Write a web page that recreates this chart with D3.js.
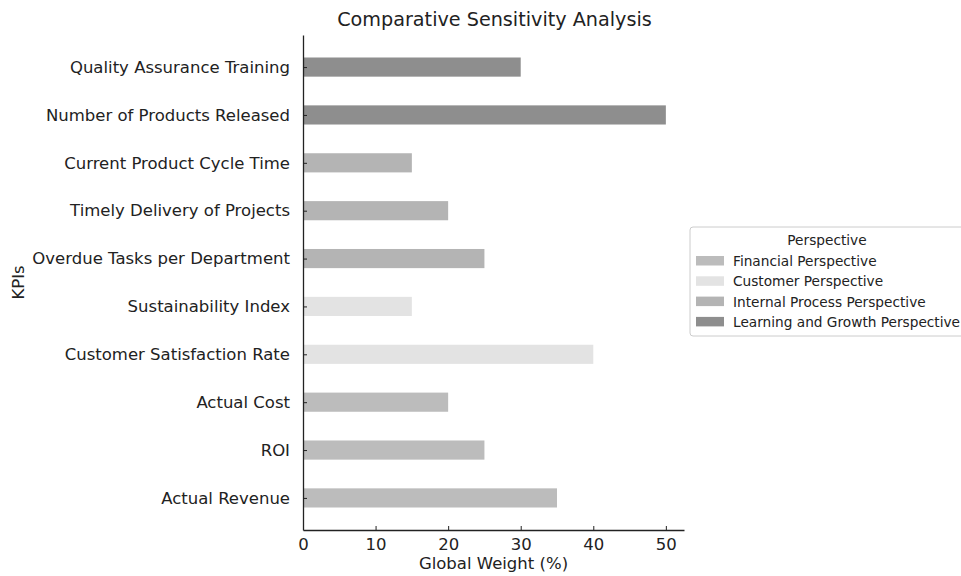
<!DOCTYPE html>
<html>
<head>
<meta charset="utf-8">
<script src="https://cdn.jsdelivr.net/npm/d3@7"></script>
<style>
  body { margin: 0; background: #fff; }
  svg { font-family: "DejaVu Sans", sans-serif; }
</style>
</head>
<body>
<div id="container"></div>
<script>
// data, top to bottom as drawn
let kpis = [
  "Quality Assurance Training",
  "Number of Products Released",
  "Current Product Cycle Time",
  "Timely Delivery of Projects",
  "Overdue Tasks per Department",
  "Sustainability Index",
  "Customer Satisfaction Rate",
  "Actual Cost",
  "ROI",
  "Actual Revenue"
];
let weights = [30, 50, 15, 20, 25, 15, 40, 20, 25, 35];
let perspectiveOf = [
  "Learning and Growth Perspective",
  "Learning and Growth Perspective",
  "Internal Process Perspective",
  "Internal Process Perspective",
  "Internal Process Perspective",
  "Customer Perspective",
  "Customer Perspective",
  "Financial Perspective",
  "Financial Perspective",
  "Financial Perspective"
];
let perspectives = [
  "Financial Perspective",
  "Customer Perspective",
  "Internal Process Perspective",
  "Learning and Growth Perspective"
];
let colors = ["#bcbcbc", "#e3e3e3", "#b4b4b4", "#8e8e8e"];
let xTicks = [0, 10, 20, 30, 40, 50];

let w = 961;
let h = 576;
let plotLeft = 303;
let plotRight = 684;
let plotTop = 35;
let plotBottom = 530;

let viz = d3.select("#container")
  .append("svg")
    .attr("width", w)
    .attr("height", h)
;

let color = d3.scaleOrdinal().domain(perspectives).range(colors);

let xScale = d3.scaleLinear().domain([0, 52.5]).range([plotLeft, plotRight]);
// matplotlib style limits: bars at index +-0.2, 5% margins
let yScale = d3.scaleLinear().domain([-0.67, 9.67]).range([plotTop, plotBottom]);
let bandPx = yScale(1) - yScale(0);
let barH = bandPx * 0.4;

// bars
viz.append("g").selectAll("rect")
  .data(kpis)
  .enter()
  .append("rect")
    .attr("x", xScale(0))
    .attr("y", function(d, i){ return yScale(i) - barH/2; })
    .attr("width", function(d, i){ return xScale(weights[i]) - xScale(0); })
    .attr("height", barH)
    .attr("fill", function(d, i){ return color(perspectiveOf[i]); })
;

// x axis
let xAxis = d3.axisBottom(xScale).tickValues(xTicks).tickSizeInner(-4).tickSizeOuter(0).tickPadding(8);
let xAxisGroup = viz.append("g")
    .attr("transform", "translate(0," + plotBottom + ")")
    .call(xAxis)
;
xAxisGroup.select(".domain").attr("stroke", "#222").attr("stroke-width", 1.3);
xAxisGroup.selectAll("text").attr("font-size", 16.5).attr("fill", "#222").attr("font-family", "DejaVu Sans");
xAxisGroup.selectAll(".tick line").attr("stroke", "#222");

// y axis
let yAxis = d3.axisLeft(yScale)
  .tickValues(d3.range(kpis.length))
  .tickFormat(function(i){ return kpis[i]; })
  .tickSizeInner(-4).tickSizeOuter(0).tickPadding(13);
let yAxisGroup = viz.append("g")
    .attr("transform", "translate(" + plotLeft + ",0)")
    .call(yAxis)
;
yAxisGroup.select(".domain").attr("stroke", "#222").attr("stroke-width", 1.3);
yAxisGroup.selectAll("text").attr("font-size", 16.5).attr("fill", "#222").attr("font-family", "DejaVu Sans");
yAxisGroup.selectAll(".tick line").attr("stroke", "#222");

// title and axis labels
viz.append("text")
  .attr("x", (plotLeft + plotRight) / 2 + 1)
  .attr("y", 26)
  .attr("text-anchor", "middle")
  .attr("font-size", 19.2)
  .attr("fill", "#222")
  .text("Comparative Sensitivity Analysis");

viz.append("text")
  .attr("x", (plotLeft + plotRight) / 2)
  .attr("y", 569)
  .attr("text-anchor", "middle")
  .attr("font-size", 16.5)
  .attr("fill", "#222")
  .text("Global Weight (%)");

viz.append("text")
  .attr("transform", "translate(24," + ((plotTop + plotBottom) / 2) + ") rotate(-90)")
  .attr("text-anchor", "middle")
  .attr("font-size", 16.5)
  .attr("fill", "#222")
  .text("KPIs");

// legend
let legend = viz.append("g").attr("transform", "translate(690,227)");
legend.append("rect")
  .attr("x", 0).attr("y", 0)
  .attr("width", 290).attr("height", 109)
  .attr("rx", 3)
  .attr("fill", "#fff")
  .attr("stroke", "#ccc");
legend.append("text")
  .attr("x", 137).attr("y", 18)
  .attr("text-anchor", "middle")
  .attr("font-size", 13.7)
  .attr("fill", "#222")
  .text("Perspective");
let items = legend.selectAll(".item")
  .data(perspectives)
  .enter()
  .append("g")
    .attr("class", "item")
    .attr("transform", function(d, i){ return "translate(6," + (34 + i * 20.3) + ")"; })
;
items.append("rect")
  .attr("x", 0).attr("y", -5)
  .attr("width", 28).attr("height", 9.5)
  .attr("fill", function(d){ return color(d); });
items.append("text")
  .attr("x", 37).attr("y", 5)
  .attr("font-size", 13.7)
  .attr("fill", "#222")
  .text(function(d){ return d; });
</script>
</body>
</html>
